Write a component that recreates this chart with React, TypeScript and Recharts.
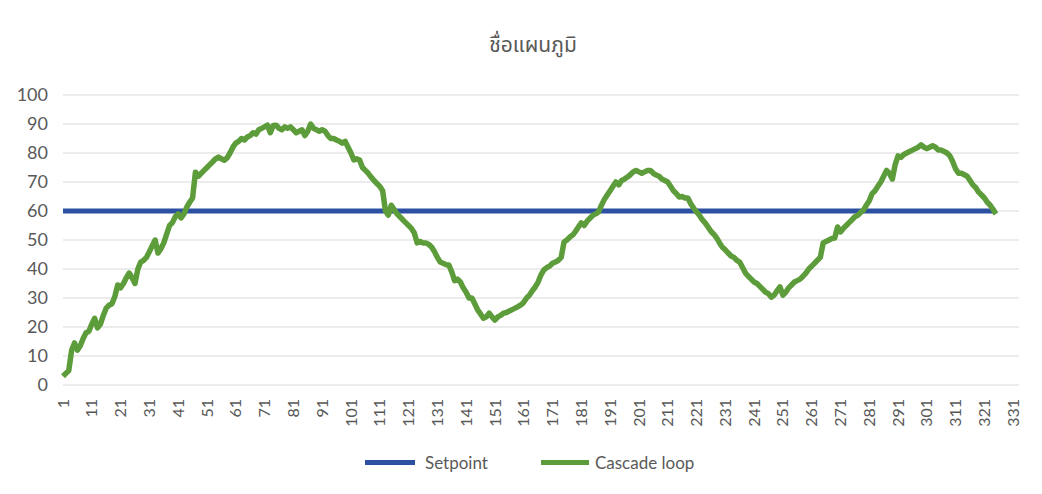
import React from 'react'
import { LineChart, Line, XAxis, YAxis, CartesianGrid } from 'recharts'

// row numbers on the category axis (Excel rows 1..333)
const categories: number[] = Array.from({ length: 333 }, (_, i) => i + 1)

const yTicks = [0, 10, 20, 30, 40, 50, 60, 70, 80, 90, 100]

const setpoint: number[] = [
  60, 60, 60, 60, 60, 60, 60, 60, 60, 60, 60, 60, 60, 60, 60, 60, 60, 60, 60, 60, 60, 60, 60, 60, 60,
  60, 60, 60, 60, 60, 60, 60, 60, 60, 60, 60, 60, 60, 60, 60, 60, 60, 60, 60, 60, 60, 60, 60, 60, 60,
  60, 60, 60, 60, 60, 60, 60, 60, 60, 60, 60, 60, 60, 60, 60, 60, 60, 60, 60, 60, 60, 60, 60, 60, 60,
  60, 60, 60, 60, 60, 60, 60, 60, 60, 60, 60, 60, 60, 60, 60, 60, 60, 60, 60, 60, 60, 60, 60, 60, 60,
  60, 60, 60, 60, 60, 60, 60, 60, 60, 60, 60, 60, 60, 60, 60, 60, 60, 60, 60, 60, 60, 60, 60, 60, 60,
  60, 60, 60, 60, 60, 60, 60, 60, 60, 60, 60, 60, 60, 60, 60, 60, 60, 60, 60, 60, 60, 60, 60, 60, 60,
  60, 60, 60, 60, 60, 60, 60, 60, 60, 60, 60, 60, 60, 60, 60, 60, 60, 60, 60, 60, 60, 60, 60, 60, 60,
  60, 60, 60, 60, 60, 60, 60, 60, 60, 60, 60, 60, 60, 60, 60, 60, 60, 60, 60, 60, 60, 60, 60, 60, 60,
  60, 60, 60, 60, 60, 60, 60, 60, 60, 60, 60, 60, 60, 60, 60, 60, 60, 60, 60, 60, 60, 60, 60, 60, 60,
  60, 60, 60, 60, 60, 60, 60, 60, 60, 60, 60, 60, 60, 60, 60, 60, 60, 60, 60, 60, 60, 60, 60, 60, 60,
  60, 60, 60, 60, 60, 60, 60, 60, 60, 60, 60, 60, 60, 60, 60, 60, 60, 60, 60, 60, 60, 60, 60, 60, 60,
  60, 60, 60, 60, 60, 60, 60, 60, 60, 60, 60, 60, 60, 60, 60, 60, 60, 60, 60, 60, 60, 60, 60, 60, 60,
  60, 60, 60, 60, 60, 60, 60, 60, 60, 60, 60, 60, 60, 60, 60, 60, 60, 60, 60, 60, 60, 60, 60, 60, 60,
]

const cascadeLoop: number[] = [
  3, 4, 5, 12, 14.5, 12, 13.5, 16, 18, 18.5,
  21, 23, 19.7, 21, 24, 26.5, 27.5, 28, 30.5, 34.5,
  33.5, 35, 37, 38.6, 37, 35, 40, 42.4, 43, 44,
  46, 48, 50, 45.5, 47, 49, 52, 55, 56, 58,
  59, 57.6, 59, 61.4, 63, 64.5, 73.4, 72, 73, 74,
  75, 76, 77, 78, 78.6, 78, 77.5, 78.3, 80, 82,
  83.4, 84, 85, 84.5, 85.5, 86, 87, 86.5, 88, 88.5,
  89, 89.6, 87, 89.5, 89.6, 88.5, 88, 89, 88.5, 89,
  88, 87, 87.5, 88, 86, 87.5, 90, 88.5, 88, 87.5,
  88, 87.5, 86, 85, 85, 84.5, 84, 83.4, 84, 82,
  80, 77.6, 78, 77.6, 75, 74, 73, 71.7, 70.5, 69.5,
  68.5, 67, 60, 58.6, 62, 60.5, 59, 58, 57, 56,
  55, 54, 52.4, 49, 49.5, 49, 49, 48.5, 47.6, 46,
  44, 42.4, 42, 41.5, 41.4, 39, 36, 36.5, 35.5, 33.5,
  32, 30, 30, 28, 25.9, 24.5, 23, 23.5, 24.8, 23.5,
  22.4, 23.5, 24, 24.8, 25, 25.5, 26, 26.5, 27, 27.6,
  28.5, 30, 31, 32.5, 33.8, 35.5, 38, 39.7, 40.5, 41,
  42, 42.4, 43, 44, 49.3, 50, 51, 51.7, 53, 54.5,
  55.9, 55, 56.5, 57.5, 58.5, 59, 59.7, 62, 64, 65.5,
  67, 68.5, 70, 69, 70.5, 71, 71.7, 72.5, 73.5, 74,
  73.5, 73, 73.5, 74, 74, 73, 72.4, 72, 71, 70.5,
  70, 68.5, 67, 66, 64.8, 65, 64.5, 64.5, 62.5, 61,
  59.7, 58.5, 57, 55.9, 54.5, 53, 52, 50.7, 49, 47.5,
  46.6, 45.5, 44.5, 44, 43, 42.4, 40.5, 38.6, 37.5, 36.5,
  35.5, 35, 34, 33, 32, 31.5, 30.3, 31, 32.5, 33.8,
  31, 32, 33.5, 34.5, 35.5, 36, 36.5, 37.5, 38.6, 40,
  41, 42, 43, 44, 49, 49.5, 50, 50.5, 50.7, 54.5,
  52.8, 54, 55, 56, 57, 58, 58.5, 59.5, 60.3, 62,
  63.5, 66, 67, 68.5, 70, 72, 74, 73, 71, 76,
  79, 78.5, 79.5, 80, 80.5, 81, 81.5, 82, 82.8, 82,
  81.5, 82, 82.5, 82, 81, 81, 80.5, 80, 79, 77,
  74.5, 73, 73, 72.5, 72, 70.5, 69, 68, 66.5, 65.5,
  64.5, 63, 62, 60.5, 59,
]

const data = categories.map((c, i) => ({
  row: String(c),
  setpoint: setpoint[i],
  cascade: cascadeLoop[i],
}))

const FONT = "Lato, 'Open Sans', sans-serif"
const GREY = '#595959'
const BLUE = '#2c50a2'
const GREEN = '#5c9c3a'

const RotTick = (props: any) => {
  const { x, y, payload } = props
  return (
    <g transform={`translate(${x},${y})`}>
      <text transform="rotate(-90)" x={-6} dy="0.35em" textAnchor="end" fontSize={16} fill={GREY} fontFamily={FONT}>
        {payload.value}
      </text>
    </g>
  )
}

const App = () => {
  return (
    <div style={{ position: 'absolute', left: 0, top: 0, width: 1042, height: 494, background: '#fff' }}>
      <div
        style={{
          position: 'absolute', left: 0, width: 1042, top: 30, textAlign: 'center',
          fontSize: 21, color: GREY, fontFamily: "'Noto Sans Thai', 'Noto Sans', Lato, sans-serif", paddingLeft: 12,
        }}
      >
        ชื่อแผนภูมิ
      </div>
      <LineChart width={1042} height={494} data={data} margin={{ top: 95, right: 23, bottom: 49, left: 0 }}>
        <CartesianGrid vertical={false} stroke="#d9d9d9" />
        <XAxis
          dataKey="row"
          interval={9}
          axisLine={false}
          tickLine={false}
          height={60}
          tick={<RotTick />}
        />
        <YAxis
          domain={[0, 100]}
          ticks={yTicks}
          axisLine={false}
          tickLine={false}
          width={63}
          tickMargin={9}
          tick={{ fontSize: 18, fill: GREY, fontFamily: FONT }}
        />
        <Line dataKey="setpoint" stroke={BLUE} strokeWidth={5} dot={false} isAnimationActive={false} type="linear" />
        <Line dataKey="cascade" stroke={GREEN} strokeWidth={5.5} dot={false} isAnimationActive={false} type="linear" strokeLinejoin="round" />
      </LineChart>
      <div style={{ position: 'absolute', left: 365, top: 452, display: 'flex', alignItems: 'center', fontFamily: FONT, fontSize: 17, color: GREY }}>
        <span style={{ width: 50, height: 5, background: BLUE, display: 'inline-block', marginRight: 10 }} />
        <span style={{ marginRight: 53 }}>Setpoint</span>
        <span style={{ width: 48, height: 5, background: GREEN, display: 'inline-block', marginRight: 6 }} />
        <span>Cascade loop</span>
      </div>
    </div>
  )
}

export default App
